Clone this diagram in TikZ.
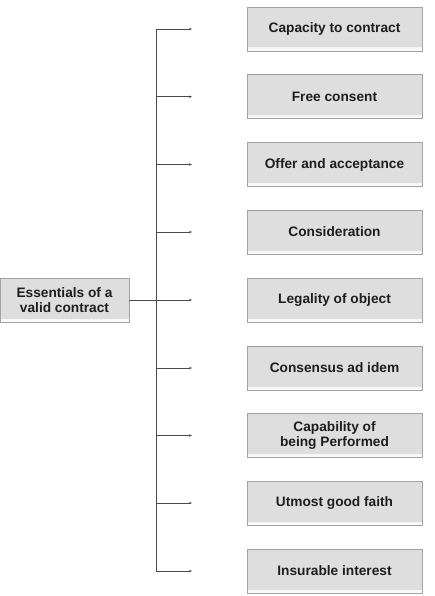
\documentclass[tikz,border=0pt]{standalone}
\usepackage{fontspec}
\setmainfont{Liberation Sans}
\usetikzlibrary{arrows.meta}
\definecolor{boxfill}{HTML}{DEDEDE}
\definecolor{boxline}{HTML}{A2A2A2}
\definecolor{shade}{HTML}{B4B4B4}
\definecolor{linec}{HTML}{4A4A4A}
\definecolor{txt}{HTML}{1E1E1E}
\begin{document}
\begin{tikzpicture}[x=1pt,y=-1pt,
  itembox/.style={draw=boxline, line width=0.8pt, fill=boxfill, minimum width=175pt, minimum height=44pt,
    inner sep=0pt, align=center, text=txt, font=\fontsize{13.7}{15.2}\selectfont\bfseries,
    path picture={\fill[shade] ([yshift=3pt]path picture bounding box.south west) rectangle (path picture bounding box.south east);}},
  rootbox/.style={itembox, minimum width=129pt},
  conn/.style={draw=linec, line width=0.7pt},
  tip/.style={conn, -{Stealth[length=3pt,width=2.4pt]}}]
\useasboundingbox (0,0) rectangle (434,596);
\node[rootbox] (root) at (64.5,300) {Essentials of a\\valid contract};
\foreach \n/\y/\t in {a/29/Capacity to contract, b/96.75/Free consent, c/164.5/Offer and acceptance,
  d/232/Consideration, e/300/Legality of object, f/368/Consensus ad idem,
  g/435.5/{Capability of\\being Performed}, h/503/Utmost good faith, i/571/Insurable interest}{
  \node[itembox] (\n) at (334.5,\y) {\t};
  \coordinate (s\n) at (156,\y);
  \coordinate (e\n) at (192,\y);
}
\draw[conn] (sa) -- (si);
\foreach \n in {a,b,c,d,f,g,h,i}{\draw[tip] (s\n) -- (e\n);}
\draw[tip] (root.east) -- (ee);
\end{tikzpicture}
\end{document}
